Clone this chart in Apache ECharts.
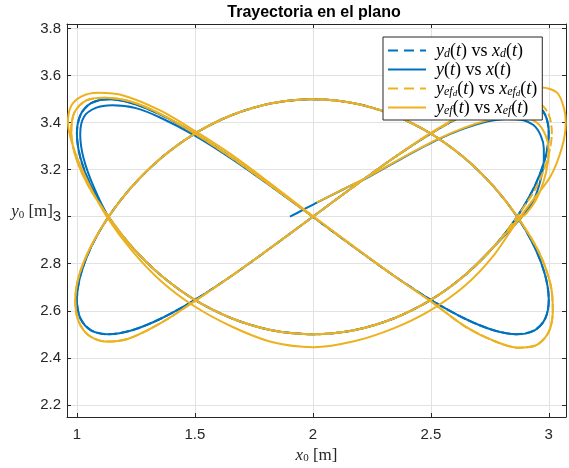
<!DOCTYPE html>
<html><head><meta charset="utf-8">
<script src="https://cdn.jsdelivr.net/npm/echarts@6/dist/echarts.min.js"></script>
<style>html,body{margin:0;padding:0;background:#fff}#c{width:569px;height:468px}</style>
</head><body><div id="c"></div>
<script>
// Desired robot path y_d(t) vs x_d(t)
const xD = [2.000,2.174,2.342,2.500,2.643,2.766,2.866,2.940,2.985,3.000,2.985,2.940,2.866,
  2.766,2.643,2.500,2.342,2.174,2.000,1.826,1.658,1.500,1.357,1.234,1.134,
  1.060,1.015,1.000,1.015,1.060,1.134,1.234,1.357,1.500,1.658,1.826,2.000,
  2.174,2.342,2.500,2.643,2.766,2.866,2.940,2.985,3.000,2.985,2.940,2.866,
  2.766,2.643,2.500,2.342,2.174,2.000,1.826,1.658,1.500,1.357,1.234,1.134,
  1.060,1.015,1.000,1.015,1.060,1.134,1.234,1.357,1.500,1.658,1.826,2.000];
const yD = [3.000,3.129,3.250,3.354,3.433,3.483,3.500,3.483,3.433,3.354,3.250,3.129,3.000,
  2.871,2.750,2.646,2.567,2.517,2.500,2.517,2.567,2.646,2.750,2.871,3.000,
  3.129,3.250,3.354,3.433,3.483,3.500,3.483,3.433,3.354,3.250,3.129,3.000,
  2.871,2.750,2.646,2.567,2.517,2.500,2.517,2.567,2.646,2.750,2.871,3.000,
  3.129,3.250,3.354,3.433,3.483,3.500,3.483,3.433,3.354,3.250,3.129,3.000,
  2.871,2.750,2.646,2.567,2.517,2.500,2.517,2.567,2.646,2.750,2.871,3.000];

// Actual robot path y(t) vs x(t)
const xR = [1.903,1.960,2.017,2.130,2.244,2.390,2.527,2.640,2.739,2.820,2.880,2.935,2.966,2.979,2.979,2.966,2.936,2.895,2.851,
  2.766,2.643,2.500,2.342,2.174,2.000,1.826,1.658,1.500,1.357,1.234,1.134,
  1.070,1.028,1.014,1.030,1.080,1.150,1.250,1.357,1.500,1.658,1.826,2.000,
  2.174,2.342,2.500,2.643,2.766,2.866,2.940,2.985,3.000,2.985,2.940,2.866,
  2.766,2.643,2.500,2.342,2.174,2.000,1.826,1.658,1.500,1.357,1.234,1.134,
  1.060,1.015,1.000,1.015,1.060,1.134,1.234,1.357,1.500,1.658,1.826,2.000,
  2.174,2.342,2.500,2.643,2.766,2.866,2.940,2.985,3.000,2.985,2.940,2.866,
  2.766,2.643,2.500,2.342,2.174,2.000,1.826,1.658,1.500,1.357,1.234,1.134,
  1.060,1.015,1.000,1.015,1.060,1.134,1.234,1.357,1.500,1.658,1.826,2.000];
const yR = [3.000,3.030,3.060,3.117,3.173,3.255,3.327,3.375,3.405,3.416,3.413,3.390,3.345,3.290,3.242,3.160,3.071,3.010,2.960,
  2.871,2.750,2.646,2.567,2.517,2.500,2.517,2.567,2.646,2.750,2.871,3.000,
  3.130,3.250,3.350,3.425,3.463,3.474,3.462,3.420,3.345,3.245,3.127,3.000,
  2.871,2.750,2.646,2.567,2.517,2.500,2.517,2.567,2.646,2.750,2.871,3.000,
  3.129,3.250,3.354,3.433,3.483,3.500,3.483,3.433,3.354,3.250,3.129,3.000,
  2.871,2.750,2.646,2.567,2.517,2.500,2.517,2.567,2.646,2.750,2.871,3.000,
  3.129,3.250,3.354,3.433,3.483,3.500,3.483,3.433,3.354,3.250,3.129,3.000,
  2.871,2.750,2.646,2.567,2.517,2.500,2.517,2.567,2.646,2.750,2.871,3.000,
  3.129,3.250,3.354,3.433,3.483,3.500,3.483,3.433,3.354,3.250,3.129,3.000];

// Desired end-effector path y_efd(t) vs x_efd(t)
const xEfd = [2.000,2.174,2.342,2.500,2.643,2.770,2.870,2.950,2.998,3.013,2.996,2.948,2.866,
  2.766,2.643,2.500,2.342,2.174,2.000,1.826,1.658,1.500,1.357,1.234,1.134,
  1.048,0.995,0.976,0.990,1.040,1.120,1.228,1.355,1.500,1.658,1.826,2.000,
  2.174,2.342,2.500,2.643,2.760,2.870,2.950,3.000,3.017,3.008,2.958,2.870,
  2.766,2.643,2.500,2.342,2.174,2.000,1.826,1.658,1.500,1.357,1.234,1.134,
  1.058,1.009,0.993,1.006,1.048,1.120,1.215,1.351,1.493,1.658,1.826,2.000];
const yEfd = [3.000,3.129,3.250,3.354,3.435,3.488,3.507,3.490,3.440,3.356,3.250,3.127,3.000,
  2.871,2.750,2.646,2.567,2.517,2.500,2.517,2.567,2.646,2.750,2.871,3.000,
  3.133,3.255,3.362,3.445,3.495,3.506,3.490,3.437,3.354,3.250,3.129,3.000,
  2.871,2.750,2.640,2.535,2.475,2.443,2.455,2.510,2.600,2.710,2.850,2.995,
  3.129,3.250,3.354,3.433,3.483,3.500,3.483,3.433,3.354,3.250,3.129,3.000,
  2.871,2.750,2.645,2.558,2.497,2.469,2.480,2.545,2.637,2.750,2.871,3.000];

// Actual end-effector path y_ef(t) vs x_ef(t)
const xEf = [2.017,2.130,2.244,2.390,2.527,2.640,2.739,2.820,2.890,2.950,2.985,2.999,2.996,2.978,2.945,2.905,2.870,
  2.766,2.643,2.500,2.342,2.174,2.003,1.826,1.658,1.500,1.357,1.234,1.130,
  1.050,0.990,0.962,0.975,1.020,1.090,1.200,1.357,1.500,1.658,1.826,2.000,
  2.174,2.342,2.500,2.643,2.760,2.870,2.950,3.000,3.017,3.008,2.958,2.870,
  2.766,2.643,2.500,2.342,2.174,2.000,1.826,1.658,1.500,1.357,1.234,1.134,
  1.058,1.009,0.993,1.006,1.048,1.120,1.215,1.351,1.493,1.658,1.826,2.000,
  2.174,2.342,2.500,2.643,2.770,2.880,2.970,3.036,3.065,3.072,3.057,3.007,2.922,2.870,
  2.766,2.643,2.500,2.342,2.174,2.000,1.826,1.658,1.500,1.357,1.234,1.134,
  1.048,0.995,0.976,0.990,1.040,1.120,1.228,1.355,1.500,1.658,1.826,2.000];
const yEf = [3.061,3.118,3.175,3.257,3.329,3.378,3.410,3.423,3.422,3.400,3.350,3.290,3.230,3.150,3.070,3.015,2.985,
  2.835,2.705,2.603,2.525,2.470,2.445,2.467,2.532,2.618,2.726,2.855,2.995,
  3.140,3.280,3.400,3.470,3.512,3.527,3.515,3.450,3.365,3.262,3.137,3.003,
  2.873,2.750,2.640,2.535,2.475,2.443,2.455,2.510,2.600,2.710,2.850,2.995,
  3.129,3.250,3.354,3.433,3.483,3.500,3.483,3.433,3.354,3.250,3.129,3.000,
  2.871,2.750,2.645,2.558,2.497,2.469,2.480,2.545,2.637,2.750,2.871,3.000,
  3.129,3.250,3.357,3.440,3.500,3.540,3.550,3.527,3.460,3.400,3.299,3.171,3.057,2.990,
  2.871,2.750,2.646,2.567,2.517,2.500,2.517,2.567,2.646,2.750,2.871,3.000,
  3.133,3.255,3.362,3.445,3.495,3.506,3.490,3.437,3.354,3.250,3.129,3.000];

const seriesNames = ['d', 'r', 'efd', 'ef'];
const legendLabels = {
  d:   '{g|}{v|y}{s|d}{p|(}{v|t}{p|) vs }{v|x}{s|d}{p|(}{v|t}{p|)}',
  r:   '{g|}{v|y}{p|(}{v|t}{p|) vs }{v|x}{p|(}{v|t}{p|)}',
  efd: '{g|}{v|y}{s|ef}{ss|d}{p|(}{v|t}{p|) vs }{v|x}{s|ef}{ss|d}{p|(}{v|t}{p|)}',
  ef:  '{g|}{v|y}{s|ef}{p|(}{v|t}{p|) vs }{v|x}{s|ef}{p|(}{v|t}{p|)}'
};
const xRange = [0.958, 3.073];
const yRange = [2.148, 3.82];

const BLUE = '#0072BD', YEL = '#EDB120', AX = '#262626', GRID = '#e2e2e2';
const pts = (xs, ys) => xs.map((x, i) => [x, ys[i]]);

const mathRich = {
  g: {width: 5, lineHeight: 19, verticalAlign: 'bottom'},
  v: {fontFamily: 'Liberation Serif', fontStyle: 'italic', fontSize: 18, color: '#000', lineHeight: 19, verticalAlign: 'bottom'},
  p: {fontFamily: 'Liberation Serif', fontSize: 18, color: '#000', lineHeight: 19, verticalAlign: 'bottom'},
  s: {fontFamily: 'Liberation Serif', fontStyle: 'italic', fontSize: 12, color: '#000', lineHeight: 8, verticalAlign: 'bottom'},
  ss: {fontFamily: 'Liberation Serif', fontStyle: 'italic', fontSize: 9, color: '#000', lineHeight: 2, verticalAlign: 'bottom'}
};
const nameRich = {
  v: {fontFamily: 'Liberation Serif', fontStyle: 'italic', fontSize: 17, color: '#262626', lineHeight: 18, verticalAlign: 'bottom'},
  p: {fontFamily: 'Liberation Serif', fontSize: 17, color: '#262626', lineHeight: 18, verticalAlign: 'bottom'},
  s: {fontFamily: 'Liberation Serif', fontSize: 11, color: '#262626', lineHeight: 8, verticalAlign: 'bottom'}
};

const chart = echarts.init(document.getElementById('c'), null, {renderer: 'canvas'});
const axisCommon = {
  type: 'value',
  nameMoveOverlap: false,
  axisLine: {show: true, onZero: false, lineStyle: {color: AX, width: 1}},
  axisTick: {show: true, inside: true, length: 4, lineStyle: {color: AX, width: 1}}
};
const lbl = (step) => (v) => (Math.abs(v / step - Math.round(v / step)) < 1e-6 ? String(Math.round(v * 10) / 10) : '');

chart.setOption({
  animation: false,
  backgroundColor: '#fff',
  graphic: [{
    type: 'text', x: 314, y: 13,
    style: {text: 'Trayectoria en el plano', font: 'bold 16px "Liberation Sans", Arial, sans-serif',
      fill: '#000', align: 'center', verticalAlign: 'middle', textAlign: 'center', textVerticalAlign: 'middle'}
  }],
  grid: {left: 67, right: 3, top: 24, bottom: 51, containLabel: false, outerBoundsMode: 'none'},
  xAxis: [
    Object.assign({}, axisCommon, {
      position: 'bottom', min: xRange[0], max: xRange[1], splitNumber: 4,
      axisLabel: {formatter: lbl(0.5), color: AX, fontSize: 15, fontFamily: 'Liberation Sans', margin: 10},
      splitLine: {show: true, lineStyle: {color: GRID, width: 1}},
      name: '{v|x}{s|0}{p| [m]}', nameLocation: 'middle', nameGap: 29,
      nameTextStyle: {rich: nameRich, verticalAlign: 'top'}
    }),
    Object.assign({}, axisCommon, {
      position: 'top', min: xRange[0], max: xRange[1], splitNumber: 4,
      axisLabel: {show: false}, splitLine: {show: false}
    })
  ],
  yAxis: [
    Object.assign({}, axisCommon, {
      position: 'left', min: yRange[0], max: yRange[1], splitNumber: 8,
      axisLabel: {formatter: lbl(0.2), color: AX, fontSize: 15, fontFamily: 'Liberation Sans', margin: 6},
      splitLine: {show: true, lineStyle: {color: GRID, width: 1}},
      name: '{v|y}{s|0}{p| [m]}', nameLocation: 'middle', nameRotate: 0, nameGap: 14,
      nameTextStyle: {rich: nameRich, padding: [0, 0, 18, 0]}
    }),
    Object.assign({}, axisCommon, {
      position: 'right', min: yRange[0], max: yRange[1], splitNumber: 8,
      axisLabel: {show: false}, splitLine: {show: false}
    })
  ],
  legend: {
    orient: 'vertical', left: 383, top: 37,
    data: seriesNames.map((n) => ({name: n, lineStyle: {type: (n === 'd' || n === 'efd') ? [10, 6] : 'solid'}})),
    itemWidth: 38, itemHeight: 12, itemGap: 0,
    padding: [4, 5, 3, 4],
    backgroundColor: '#fff', borderColor: AX, borderWidth: 1, borderRadius: 0,
    selectedMode: false,
    itemStyle: {opacity: 0},
    formatter: (name) => legendLabels[name],
    textStyle: {fontSize: 18, lineHeight: 19, rich: mathRich}
  },
  series: [
    {name: 'd', type: 'line', data: pts(xD, yD), symbol: 'none', showSymbol: false, smooth: 0.3,
      lineStyle: {color: BLUE, width: 2, type: [9, 3]}, itemStyle: {color: BLUE}},
    {name: 'r', type: 'line', data: pts(xR, yR), symbol: 'none', showSymbol: false, smooth: 0.3,
      lineStyle: {color: BLUE, width: 2}, itemStyle: {color: BLUE}},
    {name: 'efd', type: 'line', data: pts(xEfd, yEfd), symbol: 'none', showSymbol: false, smooth: 0.3,
      lineStyle: {color: YEL, width: 2, type: [9, 3]}, itemStyle: {color: YEL}},
    {name: 'ef', type: 'line', data: pts(xEf, yEf), symbol: 'none', showSymbol: false, smooth: 0.3,
      lineStyle: {color: YEL, width: 2}, itemStyle: {color: YEL}}
  ]
});
</script></body></html>
